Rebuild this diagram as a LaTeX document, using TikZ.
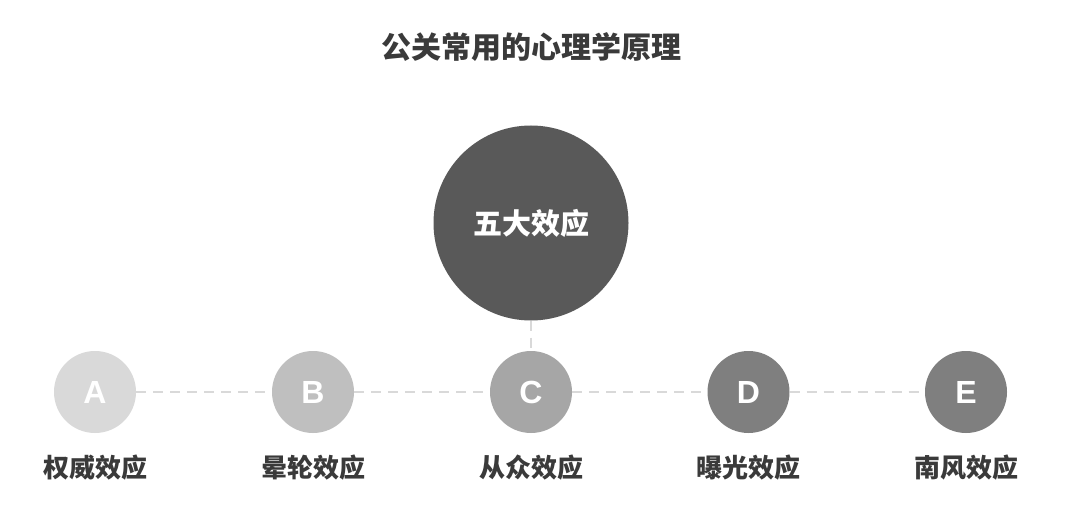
\documentclass[tikz,border=0pt]{standalone}
\usepackage{fontspec}
\setmainfont{Liberation Sans}
\newfontfamily\cjk{Noto Sans CJK SC}

\definecolor{inkTitle}{HTML}{3A3A3A}
\definecolor{coreFill}{HTML}{595959}
\definecolor{linkGray}{HTML}{D9D9D9}
\definecolor{shadeA}{HTML}{D9D9D9}
\definecolor{shadeB}{HTML}{BFBFBF}
\definecolor{shadeC}{HTML}{A6A6A6}
\definecolor{shadeD}{HTML}{7F7F7F}
\definecolor{shadeE}{HTML}{7F7F7F}

\tikzset{
  coredot/.style={circle, fill=coreFill, minimum size=195pt, inner sep=0pt,
    text=white, font=\cjk\bfseries\fontsize{29}{29}\selectfont},
  effdot/.style={circle, minimum size=82pt, inner sep=0pt,
    text=white, font=\bfseries\fontsize{32}{32}\selectfont},
  efflabel/.style={text=inkTitle, font=\cjk\bfseries\fontsize{26}{26}\selectfont},
  link/.style={draw=linkGray, line width=2pt, dash pattern=on 10pt off 7pt}
}

\begin{document}
\begin{tikzpicture}[x=1pt, y=-1pt]
  \useasboundingbox[fill=white] (0,0) rectangle (1076,505);
  \newcommand{\rowY}{392}
  \newcommand{\nameY}{468}
  % Title
  \node[text=inkTitle, font=\cjk\bfseries\fontsize{30}{30}\selectfont] (title) at (531,47) {公关常用的心理学原理};
  % Centre circle
  \node[coredot] (core) at (531,223) {五大效应};
  % Effect circles and their names
  \foreach \k/\posx/\effname in {A/95/权威效应, B/313/晕轮效应, C/531/从众效应, D/748.5/曝光效应, E/966/南风效应} {
    \node[effdot, fill=shade\k] (dot\k) at (\posx,\rowY) {\k};
    \node[efflabel] (name\k) at (\posx,\nameY) {\effname};
  }
  % Dashed links
  \foreach \a/\b in {A/B, B/C, C/D, D/E} {
    \draw[link] (dot\a) -- (dot\b);
  }
  \draw[link] (core) -- (dotC);
\end{tikzpicture}
\end{document}
